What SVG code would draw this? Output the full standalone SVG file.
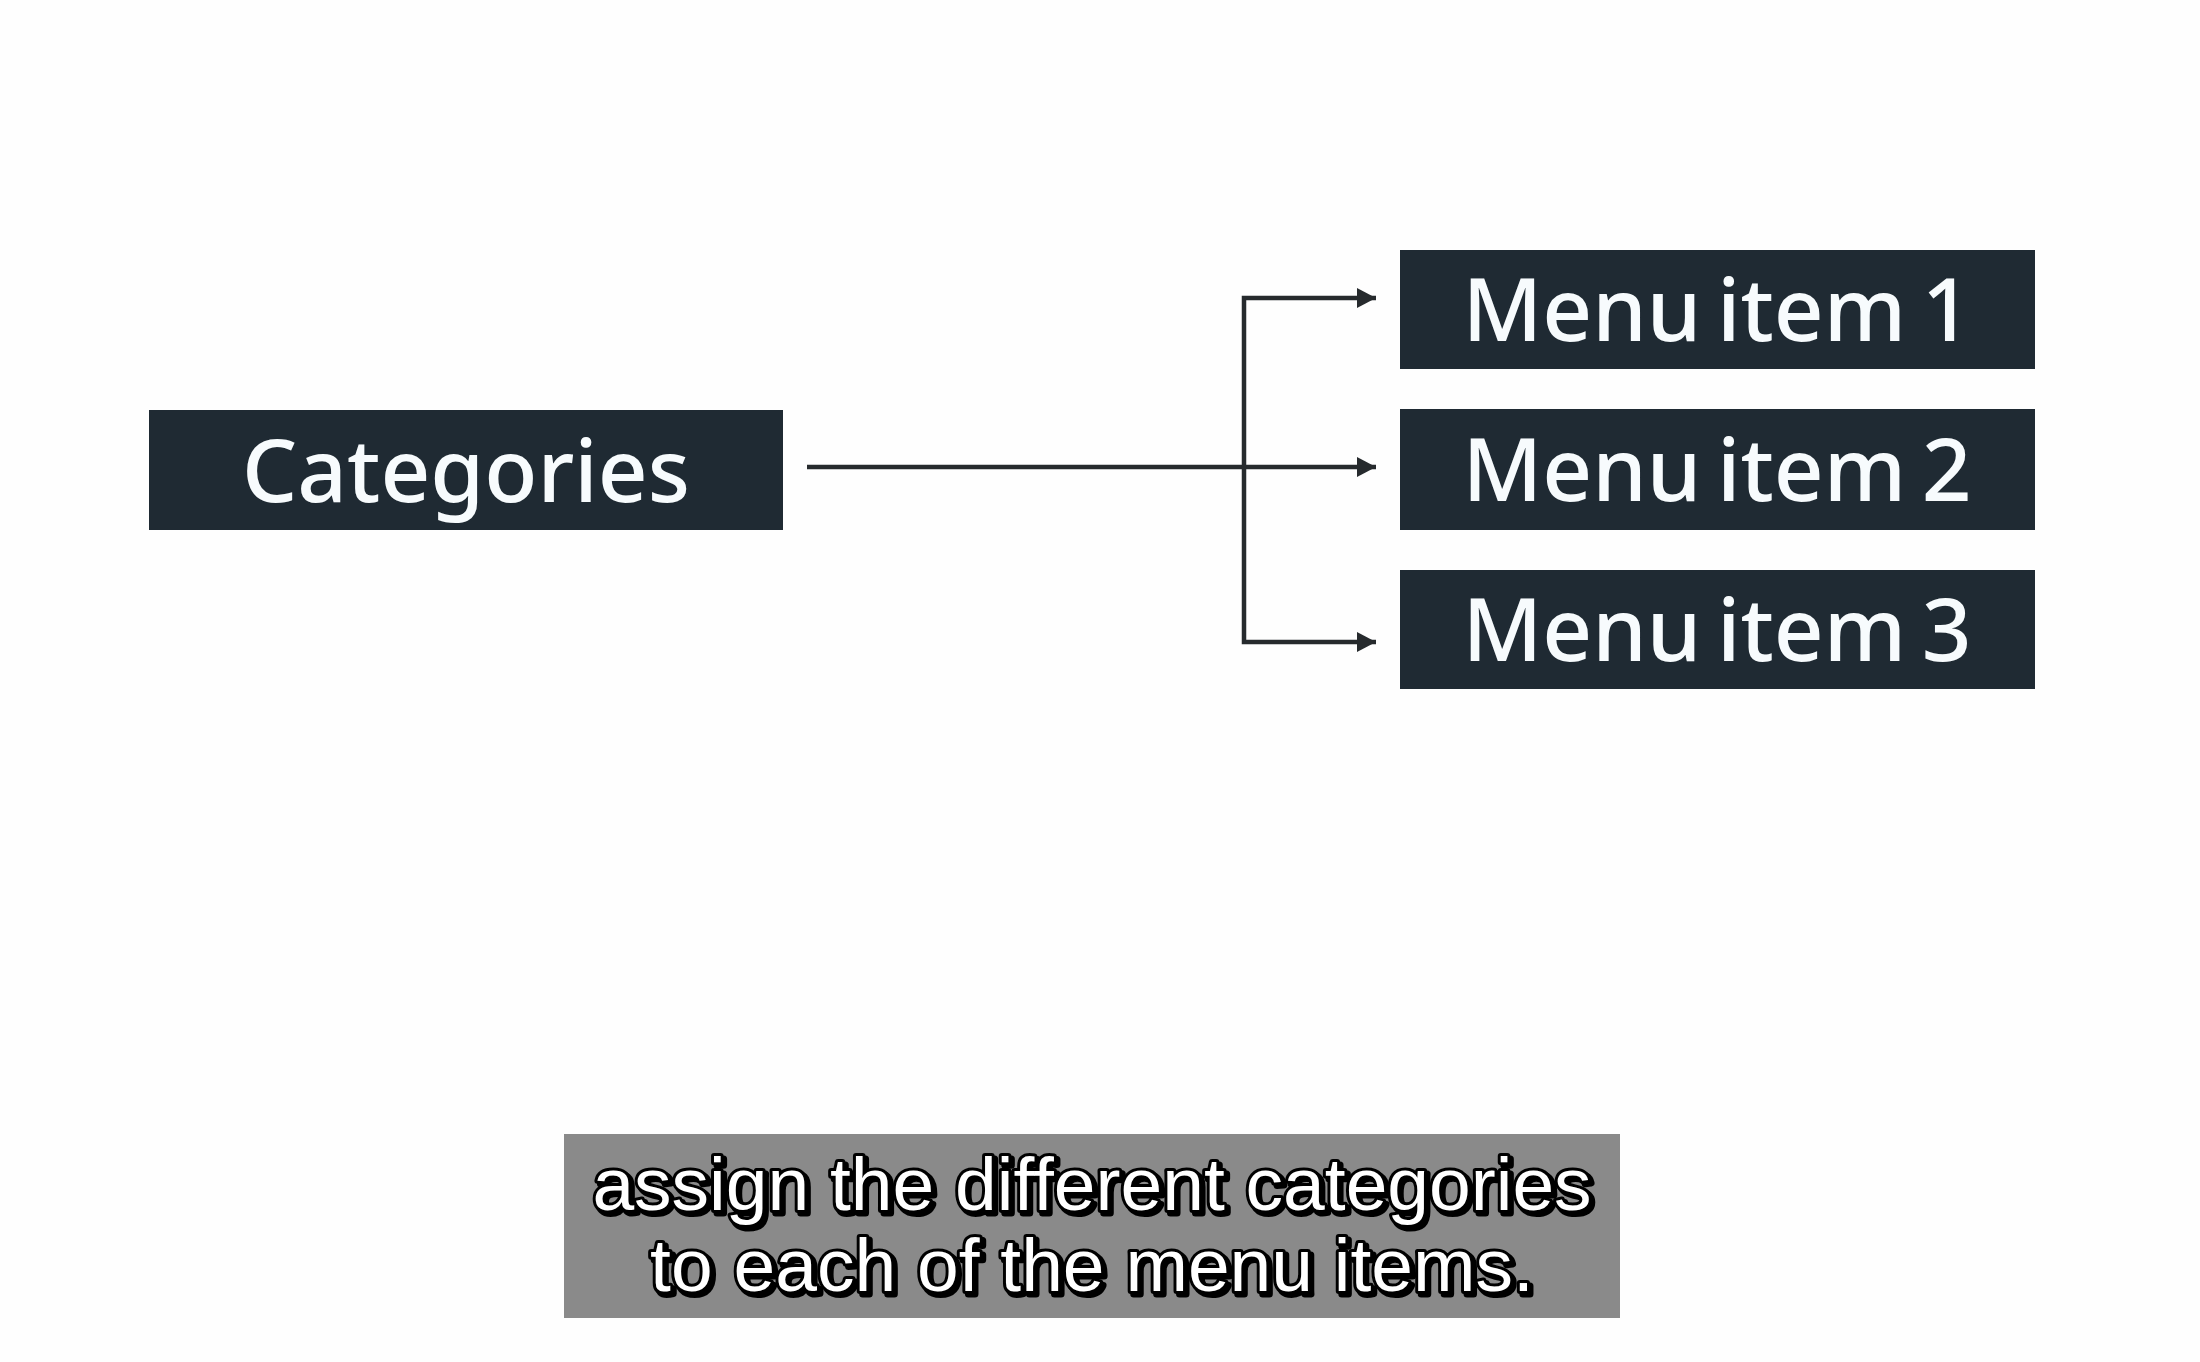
<svg xmlns="http://www.w3.org/2000/svg" width="2200" height="1362" viewBox="0 0 2200 1362">
  <defs>
    <style>
      .node rect { fill: #1f2a33; }
      .node text { fill: #f7fbfd; font-family: "Noto Sans", "Open Sans", sans-serif; font-size: 87px; font-weight: 500; text-anchor: middle; }
      .node text.menu { font-size: 87px; word-spacing: -7px; }
      .conn { fill: none; stroke: #262a2d; stroke-width: 4.5; marker-end: url(#arrow); }
      .cap { font-family: "Liberation Sans", Arial, sans-serif; font-size: 75px; text-anchor: middle; }
      .cap-shadow { fill: #000; stroke: #000; stroke-width: 7; stroke-linejoin: round; }
      .cap-main { fill: #fff; stroke: #000; stroke-width: 6; stroke-linejoin: round; paint-order: stroke; }
    </style>
    <marker id="arrow" markerUnits="userSpaceOnUse" markerWidth="22" markerHeight="22" refX="19" refY="10" orient="auto">
      <path d="M0,0 L19,10 L0,20 z" fill="#262a2d"/>
    </marker>
  </defs>
  <rect x="0" y="0" width="2200" height="1362" fill="#fefefe"/>

  <g id="connectors">
    <path class="conn" d="M807,467 H1376"/>
    <path class="conn" d="M1244,467 V298 H1376"/>
    <path class="conn" d="M1244,467 V642 H1376"/>
  </g>

  <g id="node-categories" class="node">
    <rect x="149" y="410" width="634" height="120"/>
    <text x="466" y="502">Categories</text>
  </g>
  <g id="node-menu-item-1" class="node">
    <rect x="1400" y="250" width="635" height="119"/>
    <text class="menu" x="1717" y="341">Menu item 1</text>
  </g>
  <g id="node-menu-item-2" class="node">
    <rect x="1400" y="409" width="635" height="121"/>
    <text class="menu" x="1717" y="501">Menu item 2</text>
  </g>
  <g id="node-menu-item-3" class="node">
    <rect x="1400" y="570" width="635" height="119"/>
    <text class="menu" x="1717" y="661">Menu item 3</text>
  </g>

  <g id="caption">
    <rect x="564" y="1134" width="1056" height="184" fill="#8a8a8a"/>
    <g class="cap cap-shadow" transform="translate(3,3)">
      <text x="1092" y="1210">assign the different categories</text>
      <text x="1092" y="1291">to each of the menu items.</text>
    </g>
    <g class="cap cap-main">
      <text x="1092" y="1210">assign the different categories</text>
      <text x="1092" y="1291">to each of the menu items.</text>
    </g>
  </g>
</svg>
